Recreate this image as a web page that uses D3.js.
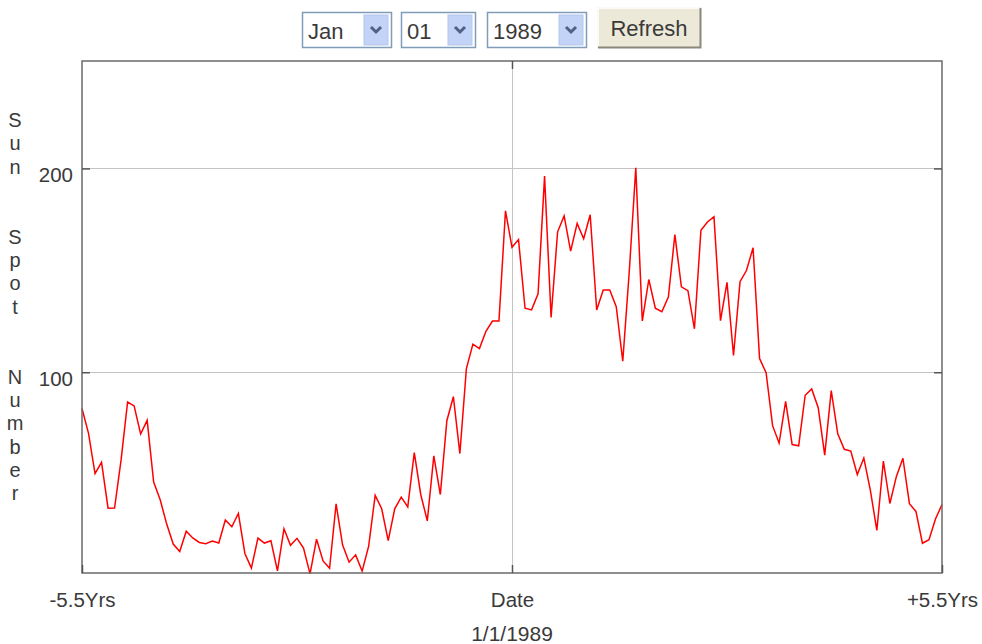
<!DOCTYPE html>
<html>
<head>
<meta charset="utf-8">
<script src="https://cdn.jsdelivr.net/npm/d3@7"></script>
<style>
  body { margin: 0; background: #fff; }
  text { font-family: "Liberation Sans", Arial, sans-serif; fill: #3a3a3a; }
</style>
</head>
<body>
<div id="wrapper"></div>
<script>
// monthly sun spot numbers, Jul 1983 .. Jul 1994 (centred on 1/1/1989)
const y1983 = [82.2, 70.0, 50.3, 55.8, 33.3, 33.4] // Jul-Dec
const y1984 = [57.0, 85.4, 83.5, 69.7, 76.4, 46.1, 37.4, 25.5, 15.7, 12.0, 22.0, 18.7]
const y1985 = [16.5, 15.9, 17.2, 16.2, 27.5, 24.2, 30.7, 11.1, 3.9, 18.6, 16.2, 17.3]
const y1986 = [2.5, 23.2, 15.1, 18.5, 13.7, 1.1, 18.1, 7.4, 3.8, 35.4, 15.2, 6.8]
const y1987 = [10.4, 2.4, 14.7, 39.6, 33.0, 17.4, 33.0, 38.7, 33.9, 60.6, 39.9, 27.1]
const y1988 = [59.0, 40.0, 76.2, 88.0, 60.1, 101.8, 113.8, 111.6, 120.1, 125.1, 125.1, 179.2]
const y1989 = [161.3, 165.1, 131.4, 130.6, 138.5, 196.2, 126.9, 168.9, 176.7, 159.4, 173.0, 165.5]
const y1990 = [177.3, 130.5, 140.3, 140.3, 132.2, 105.4, 149.4, 200.3, 125.2, 145.5, 131.4, 129.7]
const y1991 = [136.9, 167.5, 141.9, 140.0, 121.3, 169.7, 173.7, 176.3, 125.3, 144.1, 108.2, 144.4]
const y1992 = [150.0, 161.1, 106.7, 99.8, 73.8, 65.2, 85.7, 64.5, 63.9, 88.7, 91.8, 82.6]
const y1993 = [59.3, 91.0, 69.8, 62.2, 61.3, 49.8, 57.9, 42.2, 22.4, 56.4, 35.6, 48.9]
const y1994 = [57.8, 35.5, 31.7, 16.1, 17.8, 28.0, 35.1] // Jan-Jul

const xTicks = [-66, 0, 66]
const xTickLabels = ["-5.5Yrs", "Date", "+5.5Yrs"]
const yTicks = [100, 200]
const centreDate = "1/1/1989"
const yTitle = "Sun  Spot  Number"
const selects = ["Jan", "01", "1989"]
const buttonLabel = "Refresh"

const values = [].concat(y1983, y1984, y1985, y1986, y1987, y1988,
  y1989, y1990, y1991, y1992, y1993, y1994)
const data = values.map((v, i) => ({ month: i - 66, spots: v }))

const xAccessor = d => d.month
const yAccessor = d => d.spots

// dimensions
let dimensions = {
  width: 982,
  height: 644,
  margin: { top: 61, right: 40, bottom: 71, left: 82 },
}
dimensions.boundedWidth = dimensions.width
  - dimensions.margin.left - dimensions.margin.right
dimensions.boundedHeight = dimensions.height
  - dimensions.margin.top - dimensions.margin.bottom

const wrapper = d3.select("#wrapper")
  .append("svg")
    .attr("width", dimensions.width)
    .attr("height", dimensions.height)

wrapper.append("rect")
    .attr("width", dimensions.width)
    .attr("height", dimensions.height)
    .attr("fill", "#fff")

const bounds = wrapper.append("g")
    .attr("transform", `translate(${dimensions.margin.left},${dimensions.margin.top})`)

// scales
const xScale = d3.scaleLinear()
    .domain([-66, 66])
    .range([0, dimensions.boundedWidth])

const yScale = d3.scaleLinear()
    .domain([1.5, 252.7])
    .range([dimensions.boundedHeight, 0])

// grid
bounds.append("g")
  .selectAll("line")
  .data(yTicks)
  .join("line")
    .attr("x1", 0)
    .attr("x2", dimensions.boundedWidth)
    .attr("y1", d => Math.round(yScale(d)) + 0.5)
    .attr("y2", d => Math.round(yScale(d)) + 0.5)
    .attr("stroke", "#c4c4c4")

bounds.append("line")
    .attr("x1", Math.round(xScale(0)) + 0.5)
    .attr("x2", Math.round(xScale(0)) + 0.5)
    .attr("y1", 0)
    .attr("y2", dimensions.boundedHeight)
    .attr("stroke", "#c4c4c4")

// line
const lineGenerator = d3.line()
    .x(d => xScale(xAccessor(d)))
    .y(d => yScale(yAccessor(d)))

bounds.append("path")
    .attr("d", lineGenerator(data))
    .attr("fill", "none")
    .attr("stroke", "#f00")
    .attr("stroke-width", 1.5)

// frame
bounds.append("rect")
    .attr("x", 0)
    .attr("y", 0)
    .attr("width", dimensions.boundedWidth)
    .attr("height", dimensions.boundedHeight)
    .attr("fill", "none")
    .attr("stroke", "#6a6a6a")
    .attr("stroke-width", 1.5)

// axes
const yAxis = bounds.append("g")
    .call(d3.axisLeft(yScale).tickValues(yTicks).tickSizeInner(-8).tickSizeOuter(0).tickPadding(9))
yAxis.select(".domain").remove()
yAxis.selectAll(".tick line").attr("stroke", "#555").attr("stroke-width", 1.5)
yAxis.selectAll("text").attr("y", 7)

const yAxisRight = bounds.append("g")
    .attr("transform", `translate(${dimensions.boundedWidth},0)`)
    .call(d3.axisRight(yScale).tickValues(yTicks).tickSizeInner(-8).tickSizeOuter(0).tickFormat(""))
yAxisRight.select(".domain").remove()
yAxisRight.selectAll(".tick line").attr("stroke", "#555").attr("stroke-width", 1.5)

const xAxis = bounds.append("g")
    .attr("transform", `translate(0,${dimensions.boundedHeight})`)
    .call(d3.axisBottom(xScale).tickValues(xTicks).tickSizeInner(-8).tickSizeOuter(0)
      .tickPadding(19).tickFormat((d, i) => xTickLabels[i]))
xAxis.select(".domain").remove()
xAxis.selectAll(".tick line").attr("stroke", "#555").attr("stroke-width", 1.5)

bounds.append("g")
    .call(d3.axisTop(xScale).tickValues([0]).tickSizeInner(-8).tickSizeOuter(0).tickFormat(""))
  .call(g => g.select(".domain").remove())
  .selectAll(".tick line").attr("stroke", "#555").attr("stroke-width", 1.5)

wrapper.selectAll(".tick text")
    .style("font-family", "'Liberation Sans', Arial, sans-serif")
    .style("font-size", "20.5px")
    .attr("fill", "#3a3a3a")

wrapper.append("text")
    .attr("x", dimensions.margin.left + xScale(0))
    .attr("y", 641)
    .attr("text-anchor", "middle")
    .style("font-size", "21px")
    .text(centreDate)

// vertical stacked title
wrapper.append("g")
  .selectAll("text")
  .data(yTitle.split(""))
  .join("text")
    .attr("x", 15)
    .attr("y", (d, i) => 120 + i * 23.33)
    .attr("dy", "0.35em")
    .attr("text-anchor", "middle")
    .style("font-size", "20px")
    .text(d => d)

// date controls
const controls = wrapper.append("g")
const boxes = [
  { x: 302, w: 89 },
  { x: 401, w: 74 },
  { x: 487, w: 99 },
]
boxes.forEach((b, i) => {
  const g = controls.append("g").attr("transform", `translate(${b.x},12)`)
  g.append("rect")
      .attr("x", 0.5).attr("y", 0.5)
      .attr("width", b.w).attr("height", 35)
      .attr("fill", "#fff")
      .attr("stroke", "#7f9db9")
      .attr("stroke-width", 1.5)
  g.append("rect")
      .attr("x", b.w - 27).attr("y", 3)
      .attr("width", 24).attr("height", 30)
      .attr("fill", "#c3d3f7")
      .attr("stroke", "#b4c6f0")
  const cx = b.w - 15, cy = 18
  g.append("path")
      .attr("d", `M${cx - 5},${cy - 3}L${cx},${cy + 2}L${cx + 5},${cy - 3}`)
      .attr("fill", "none")
      .attr("stroke", "#4d6185")
      .attr("stroke-width", 3)
  g.append("text")
      .attr("x", 6)
      .attr("y", 26.5)
      .style("font-size", "22px")
      .text(selects[i])
})

const btn = controls.append("g").attr("transform", "translate(597,7)")
btn.append("rect")
    .attr("x", 0).attr("y", 0)
    .attr("width", 104).attr("height", 41)
    .attr("fill", "#ece9d8")
btn.append("path")
    .attr("d", "M1,40V1H103")
    .attr("fill", "none").attr("stroke", "#fff").attr("stroke-width", 1.5)
btn.append("path")
    .attr("d", "M1,40.5H103.5V1")
    .attr("fill", "none").attr("stroke", "#8a887c").attr("stroke-width", 2)
btn.append("text")
    .attr("x", 52)
    .attr("y", 29)
    .attr("text-anchor", "middle")
    .style("font-size", "22px")
    .text(buttonLabel)
</script>
</body>
</html>
